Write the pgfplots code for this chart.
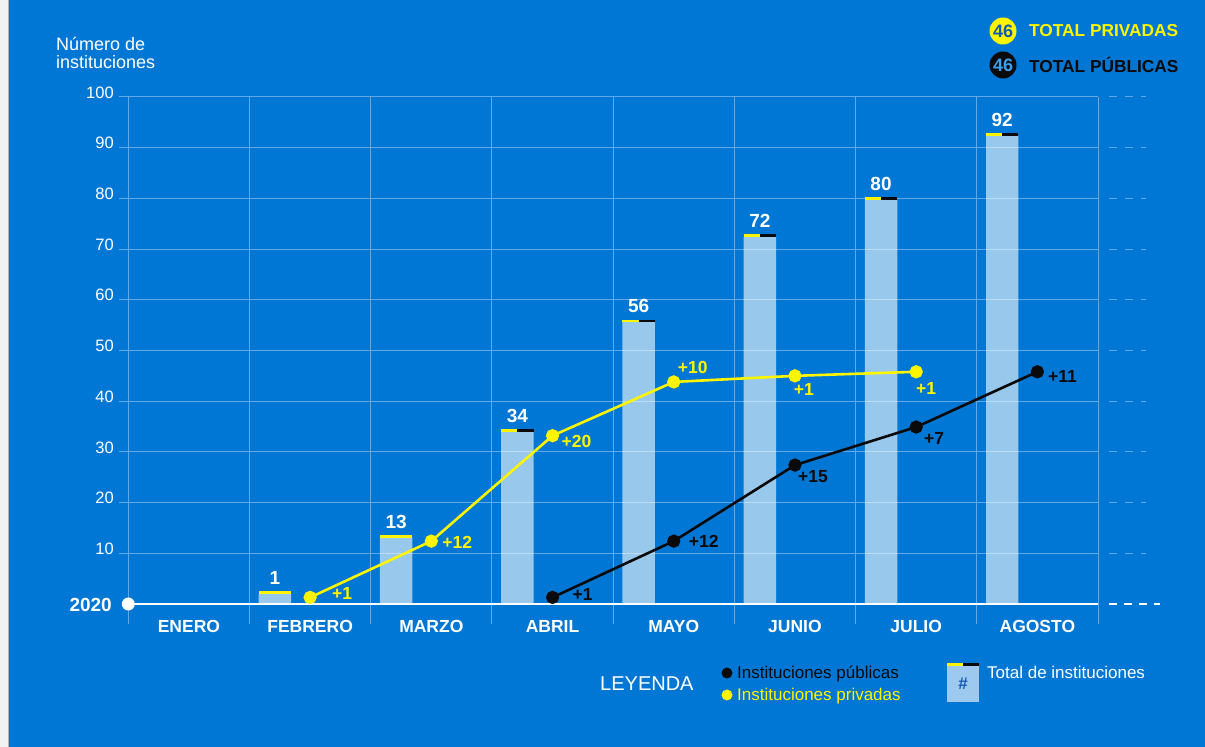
\documentclass[border=0pt]{standalone}
\usepackage{pgfplots}
\usepackage{pgfplotstable}
\pgfplotsset{compat=1.18}
\usepackage{fontspec}
\setmainfont{Liberation Sans}
\definecolor{bg}{RGB}{0,119,212}
\definecolor{barcol}{RGB}{158,201,238}
\definecolor{gridcol}{RGB}{96,168,230}
\definecolor{ylw}{RGB}{255,245,0}
\definecolor{blk}{RGB}{10,10,10}
\definecolor{navy}{RGB}{18,90,180}
\definecolor{ltblue}{RGB}{60,160,240}
\newcommand{\fs}[1]{\fontsize{#1}{#1}\selectfont}

\pgfplotstableread{
x y lab
1.21 2.0 1
2.21 13.1 13
3.21 34.0 34
4.21 55.6 56
5.21 72.4 72
6.21 79.7 80
7.21 92.4 92
}\bars

\begin{document}
\begin{tikzpicture}
\fill[bg] (0,0) rectangle (1205pt,747pt);
\useasboundingbox (0,0) rectangle (1205pt,747pt);
\fill[gray!10] (0,0) rectangle (8pt,747pt);
\draw[gray!60, line width=1pt] (8pt,0) -- (8pt,747pt);
\begin{axis}[
  at={(128.3pt,143pt)}, anchor=south west,
  scale only axis, width=969.7pt, height=507pt,
  xmin=0, xmax=8, ymin=0, ymax=100,
  clip=false,
  axis line style={draw=none},
  xtick={0,...,8}, xticklabels={},
  extra x ticks={0.5,1.5,2.5,3.5,4.5,5.5,6.5,7.5},
  extra x tick labels={ENERO,FEBRERO,MARZO,ABRIL,MAYO,JUNIO,JULIO,AGOSTO},
  extra x tick style={grid=none},
  ytick={10,20,...,100},
  grid=major,
  grid style={gridcol, line width=1pt},
  major tick length=0pt,
  tick style={draw=none},
  /pgf/number format/assume math mode=true,
  yticklabel style={font=\fs{16.5}, text=white, anchor=east, xshift=-11pt, yshift=4.5pt},
  xticklabel style={font=\fs{17.5}\bfseries, text=white, yshift=-13pt},
]
% bars
\addplot[ybar, bar width=0.268, bar shift=0pt, fill=white, fill opacity=0.6, draw=none,
  nodes near coords, point meta=explicit symbolic,
  nodes near coords style={font=\fs{19}\bfseries, text=white, text opacity=1, fill opacity=1, anchor=base, inner sep=0pt, yshift=9.5pt}]
  table[x=x, y=y, meta=lab] {\bars};
% caps
\addplot[ylw, line width=2.5pt, line cap=butt, unbounded coords=jump] coordinates {
 (1.076,2.25) (1.344,2.25) (1.344,nan)
 (2.076,13.35) (2.344,13.35) (2.344,nan)
 (3.076,34.25) (3.21,34.25) (3.21,nan)
 (4.076,55.85) (4.21,55.85) (4.21,nan)
 (5.076,72.65) (5.21,72.65) (5.21,nan)
 (6.076,79.95) (6.21,79.95) (6.21,nan)
 (7.076,92.65) (7.21,92.65)};
\addplot[blk, line width=2.5pt, line cap=butt, unbounded coords=jump] coordinates {
 (3.21,34.25) (3.344,34.25) (3.344,nan)
 (4.21,55.85) (4.344,55.85) (4.344,nan)
 (5.21,72.65) (5.344,72.65) (5.344,nan)
 (6.21,79.95) (6.344,79.95) (6.344,nan)
 (7.21,92.65) (7.344,92.65)};
% lines
\addplot[ylw, line width=2.6pt, mark=*, mark size=5.3pt, mark options={fill=ylw, draw=none}]
 coordinates {(1.5,1.3) (2.5,12.4) (3.5,33.2) (4.5,43.8) (5.5,45.0) (6.5,45.8)};
\addplot[blk, line width=2.6pt, mark=*, mark size=5.3pt, mark options={fill=blk, draw=none}]
 coordinates {(3.5,1.3) (4.5,12.4) (5.5,27.4) (6.5,34.9) (7.5,45.8)};
% grid extensions
\pgfplotsinvokeforeach{0,1,2,3,4,5,6,7,8}{\draw[gridcol, line width=1pt] (axis cs:#1,0) -- ++(0,-20pt);}
\pgfplotsinvokeforeach{10,20,30,40,50,60,70,80,90,100}{
  \draw[gridcol, line width=1pt] (axis cs:0,#1) -- ++(-9pt,0);
  \draw[gridcol, line width=1pt, dash pattern=on 8pt off 8pt] (axis cs:8,#1) ++(11pt,0) -- ++(37pt,0);}
\draw[white, line width=2pt] (axis cs:0,0) -- (axis cs:8,0);
\draw[white, line width=2pt, dash pattern=on 7.5pt off 7.5pt] (axis cs:8,0) ++(11pt,0) -- ++(51pt,0);
\fill[white] (axis cs:0,0) circle (6.5pt);
% point labels
\tikzset{lbl/.style={font=\fs{17.5}\bfseries, inner sep=0pt}}
\node[lbl, text=ylw, xshift=32pt, yshift=3.5pt] at (axis cs:1.5,1.3) {+1};
\node[lbl, text=ylw, xshift=26pt, yshift=-1pt] at (axis cs:2.5,12.4) {+12};
\node[lbl, text=ylw, xshift=24pt, yshift=-6pt] at (axis cs:3.5,33.2) {+20};
\node[lbl, text=ylw, xshift=19pt, yshift=14pt] at (axis cs:4.5,43.8) {+10};
\node[lbl, text=ylw, xshift=9pt, yshift=-14pt] at (axis cs:5.5,45.0) {+1};
\node[lbl, text=ylw, xshift=10pt, yshift=-17pt] at (axis cs:6.5,45.8) {+1};
\node[lbl, text=blk, xshift=30pt, yshift=2.5pt] at (axis cs:3.5,1.3) {+1};
\node[lbl, text=blk, xshift=30pt, yshift=0pt] at (axis cs:4.5,12.4) {+12};
\node[lbl, text=blk, xshift=18pt, yshift=-11pt] at (axis cs:5.5,27.4) {+15};
\node[lbl, text=blk, xshift=18pt, yshift=-11pt] at (axis cs:6.5,34.9) {+7};
\node[lbl, text=blk, xshift=25pt, yshift=-5pt] at (axis cs:7.5,45.8) {+11};
\end{axis}
% axis title
\node[anchor=base west, font=\fs{18}, text=white, inner sep=0pt] at (56pt,696pt) {Número de};
\node[anchor=base west, font=\fs{18}, text=white, inner sep=0pt] at (56pt,678pt) {instituciones};
\node[anchor=east, font=\fs{19}\bfseries, text=white, inner sep=0pt] at (112pt,142pt) {2020};
% top right totals
\fill[ylw] (1003pt,716pt) circle (13.5pt);
\node[font=\fs{18}\bfseries, text=navy, inner sep=0pt] at (1003pt,716pt) {46};
\fill[blk] (1003pt,682pt) circle (13.5pt);
\node[font=\fs{18}\bfseries, text=ltblue, inner sep=0pt] at (1003pt,682pt) {46};
\node[anchor=base west, font=\fs{17.3}\bfseries, text=ylw, inner sep=0pt] at (1029pt,710.3pt) {TOTAL PRIVADAS};
\node[anchor=base west, font=\fs{17.3}\bfseries, text=blk, inner sep=0pt] at (1029pt,674.5pt) {TOTAL PÚBLICAS};
% bottom legend
\node[anchor=base west, font=\fs{20}, text=white, inner sep=0pt] at (600pt,56pt) {LEYENDA};
\fill[blk] (727pt,74pt) circle (5.5pt);
\node[anchor=base west, font=\fs{17}, text=blk, inner sep=0pt] at (737pt,68pt) {Instituciones públicas};
\fill[ylw] (727pt,52pt) circle (5.5pt);
\node[anchor=base west, font=\fs{17}, text=ylw, inner sep=0pt] at (737pt,46pt) {Instituciones privadas};
\fill[barcol] (947pt,45pt) rectangle (979pt,84pt);
\fill[ylw] (947pt,81pt) rectangle (963pt,84pt);
\fill[blk] (963pt,81pt) rectangle (979pt,84pt);
\node[font=\fs{17}\bfseries, text=navy, inner sep=0pt] at (963pt,63pt) {\#};
\node[anchor=base west, font=\fs{17}, text=white, inner sep=0pt] at (987pt,68pt) {Total de instituciones};
\end{tikzpicture}
\end{document}
